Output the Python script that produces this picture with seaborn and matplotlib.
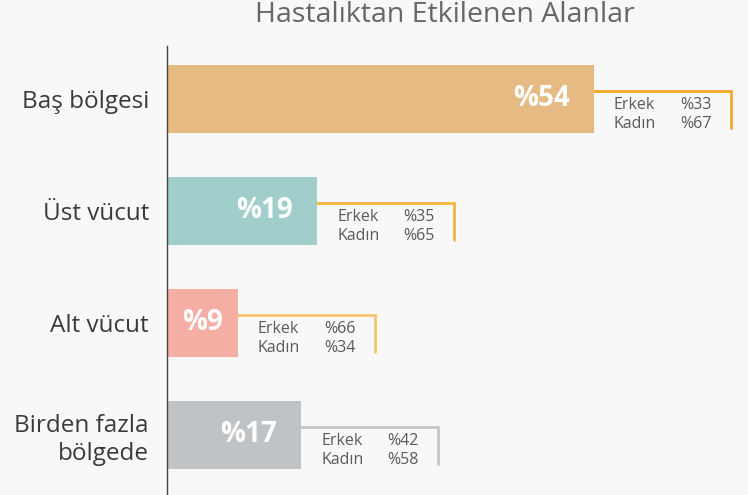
import matplotlib
matplotlib.use('Agg')
import matplotlib.pyplot as plt
import seaborn as sns
import pandas as pd

# data
categories = ['Baş bölgesi', 'Üst vücut', 'Alt vücut', 'Birden fazla\nbölgede']
shares = [54, 19, 9, 17]
male = [33, 35, 66, 42]
female = [67, 65, 34, 58]
bar_colors = ['#E5BA83', '#A1CECB', '#F4AEA3', '#BFC3C5']
bracket_colors = ['#F7A827', '#F7B440', '#F9C46F', '#C3C7CA']

sns.set_theme(style='white')
plt.rcParams['font.family'] = ['Open Sans', 'DejaVu Sans']

bg = '#F7F8F7'
fig = plt.figure(figsize=(7.48, 4.95), dpi=100, facecolor=bg)
ax = fig.add_axes([167/748, 0, 1 - 167/748, (495 - 46)/495])
ax.set_facecolor(bg)

df = pd.DataFrame({'cat': categories, 'share': shares})
sns.barplot(data=df, x='share', y='cat', hue='cat', palette=bar_colors,
            legend=False, width=0.61, orient='h', ax=ax, saturation=1,
            linewidth=0)

ax.set_xlim(0, 581/7.91)
ax.set_ylim(3.536, -0.473)
ax.set_xlabel('')
ax.set_ylabel('')
ax.set_xticks([])
ax.tick_params(axis='y', length=0, pad=13, labelsize=17.5, labelcolor='#3A3A3A')
for s in ['top', 'right', 'bottom']:
    ax.spines[s].set_visible(False)
ax.spines['left'].set_color('#444444')
ax.spines['left'].set_linewidth(1.0)

for i, (v, m, f) in enumerate(zip(shares, male, female)):
    # value inside the bar
    if v < 12:
        ax.text(v / 2, i, f'%{v}', ha='center', va='center', color='white',
                fontsize=20, fontweight='bold')
    else:
        ax.text(v - 3.1, i, f'%{v}', ha='right', va='center', color='white',
                fontsize=20, fontweight='bold')
    # bracket
    y0 = i - 0.075
    x1 = v + 17.3
    ax.plot([v, x1, x1], [y0, y0, i + 0.26], color=bracket_colors[i],
            lw=2, solid_joinstyle='miter', clip_on=False)
    ax.text(v + 2.5, i + 0.05, 'Erkek', ha='left', va='center',
            fontsize=11.5, color='#5A5A5A')
    ax.text(v + 2.5, i + 0.22, 'Kadın', ha='left', va='center',
            fontsize=11.5, color='#5A5A5A')
    ax.text(v + 10.9, i + 0.05, f'%{m}', ha='left', va='center',
            fontsize=11.5, color='#5A5A5A')
    ax.text(v + 10.9, i + 0.22, f'%{f}', ha='left', va='center',
            fontsize=11.5, color='#5A5A5A')

fig.text(445/748, 1 - 15/495, 'Hastalıktan Etkilenen Alanlar', ha='center',
         va='center', fontsize=20.5, color='#666666')

fig.savefig('out.png', dpi=100, facecolor=bg)
